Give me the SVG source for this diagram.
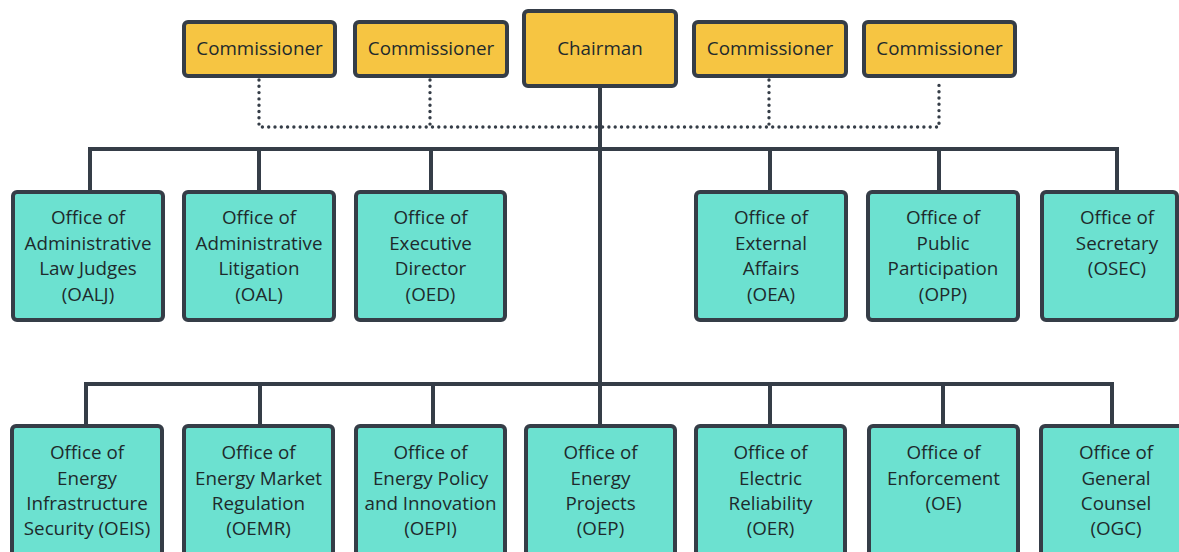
<svg xmlns="http://www.w3.org/2000/svg" width="1179" height="552" viewBox="0 0 1179 552">
  <style>
    .lead { fill: #f6c542; stroke: #353d47; stroke-width: 4; }
    .office { fill: #6ce1d0; stroke: #353d47; stroke-width: 4; }
    .label { font-family: "Open Sans", "Liberation Sans", sans-serif; font-size: 18.8px; fill: #1e2a2c; text-anchor: middle; dominant-baseline: central; }
    .solid { fill: none; stroke: #353d47; stroke-width: 4; }
    .dotted { fill: none; stroke: #353d47; stroke-width: 3.4; stroke-linecap: round; stroke-dasharray: 0 6.3; }
  </style>
  <rect width="1179" height="552" fill="#ffffff"/>

  <!-- connectors -->
  <g id="connectors">
    <!-- commissioners to the shared dotted rail -->
    <path class="dotted" d="M259 80 V127 H939 V80 M430 80 V127 M769 80 V127"/>
    <!-- chairman trunk -->
    <path class="solid" d="M600 87 V385"/>
    <!-- upper office bus -->
    <path class="solid" d="M90 191 V149 H1117 V191 M259 149 V191 M431 149 V191 M770 149 V191 M939 149 V191"/>
    <!-- lower office bus -->
    <path class="solid" d="M86 425 V384 H1112 V425 M260 384 V425 M433 384 V425 M600 384 V425 M770 384 V425 M943 384 V425"/>
  </g>

  <!-- leadership -->
  <g id="commissioner-1"><rect class="lead" x="184" y="22" width="151" height="54" rx="4"/><text class="label" x="259.5" y="48">Commissioner</text></g>
  <g id="commissioner-2"><rect class="lead" x="355" y="22" width="152" height="54" rx="4"/><text class="label" x="431" y="48">Commissioner</text></g>
  <g id="chairman"><rect class="lead" x="524" y="11" width="152" height="75" rx="4"/><text class="label" x="600" y="48">Chairman</text></g>
  <g id="commissioner-3"><rect class="lead" x="694" y="22" width="152" height="54" rx="4"/><text class="label" x="770" y="48">Commissioner</text></g>
  <g id="commissioner-4"><rect class="lead" x="864" y="22" width="151" height="54" rx="4"/><text class="label" x="939.5" y="48">Commissioner</text></g>

  <!-- upper row of offices -->
  <g id="oalj"><rect class="office" x="13" y="192" width="150" height="128" rx="4"/>
    <text class="label" x="88" y="217">Office of</text><text class="label" x="88" y="242.5">Administrative</text><text class="label" x="88" y="268">Law Judges</text><text class="label" x="88" y="294">(OALJ)</text></g>
  <g id="oal"><rect class="office" x="184" y="192" width="150" height="128" rx="4"/>
    <text class="label" x="259" y="217">Office of</text><text class="label" x="259" y="242.5">Administrative</text><text class="label" x="259" y="268">Litigation</text><text class="label" x="259" y="294">(OAL)</text></g>
  <g id="oed"><rect class="office" x="356" y="192" width="149" height="128" rx="4"/>
    <text class="label" x="430.5" y="217">Office of</text><text class="label" x="430.5" y="242.5">Executive</text><text class="label" x="430.5" y="268">Director</text><text class="label" x="430.5" y="294">(OED)</text></g>
  <g id="oea"><rect class="office" x="696" y="192" width="150" height="128" rx="4"/>
    <text class="label" x="771" y="217">Office of</text><text class="label" x="771" y="242.5">External</text><text class="label" x="771" y="268">Affairs</text><text class="label" x="771" y="294">(OEA)</text></g>
  <g id="opp"><rect class="office" x="868" y="192" width="150" height="128" rx="4"/>
    <text class="label" x="943" y="217">Office of</text><text class="label" x="943" y="242.5">Public</text><text class="label" x="943" y="268">Participation</text><text class="label" x="943" y="294">(OPP)</text></g>
  <g id="osec"><rect class="office" x="1042" y="192" width="135" height="128" rx="4"/>
    <text class="label" x="1117" y="217">Office of</text><text class="label" x="1117" y="242.5">Secretary</text><text class="label" x="1117" y="268">(OSEC)</text></g>

  <!-- lower row of offices -->
  <g id="oeis"><rect class="office" x="12" y="426" width="150" height="150" rx="4"/>
    <text class="label" x="87" y="452">Office of</text><text class="label" x="87" y="477.5">Energy</text><text class="label" x="87" y="503">Infrastructure</text><text class="label" x="87" y="528">Security (OEIS)</text></g>
  <g id="oemr"><rect class="office" x="184" y="426" width="149" height="150" rx="4"/>
    <text class="label" x="258.5" y="452">Office of</text><text class="label" x="258.5" y="477.5">Energy Market</text><text class="label" x="258.5" y="503">Regulation</text><text class="label" x="258.5" y="528">(OEMR)</text></g>
  <g id="oepi"><rect class="office" x="356" y="426" width="149" height="150" rx="4"/>
    <text class="label" x="430.5" y="452">Office of</text><text class="label" x="430.5" y="477.5">Energy Policy</text><text class="label" x="430.5" y="503">and Innovation</text><text class="label" x="430.5" y="528">(OEPI)</text></g>
  <g id="oep"><rect class="office" x="526" y="426" width="149" height="150" rx="4"/>
    <text class="label" x="600.5" y="452">Office of</text><text class="label" x="600.5" y="477.5">Energy</text><text class="label" x="600.5" y="503">Projects</text><text class="label" x="600.5" y="528">(OEP)</text></g>
  <g id="oer"><rect class="office" x="696" y="426" width="149" height="150" rx="4"/>
    <text class="label" x="770.5" y="452">Office of</text><text class="label" x="770.5" y="477.5">Electric</text><text class="label" x="770.5" y="503">Reliability</text><text class="label" x="770.5" y="528">(OER)</text></g>
  <g id="oe"><rect class="office" x="869" y="426" width="149" height="150" rx="4"/>
    <text class="label" x="943.5" y="452">Office of</text><text class="label" x="943.5" y="477.5">Enforcement</text><text class="label" x="943.5" y="503">(OE)</text></g>
  <g id="ogc"><rect class="office" x="1041" y="426" width="150" height="150" rx="4"/>
    <text class="label" x="1116" y="452">Office of</text><text class="label" x="1116" y="477.5">General</text><text class="label" x="1116" y="503">Counsel</text><text class="label" x="1116" y="528">(OGC)</text></g>
</svg>
